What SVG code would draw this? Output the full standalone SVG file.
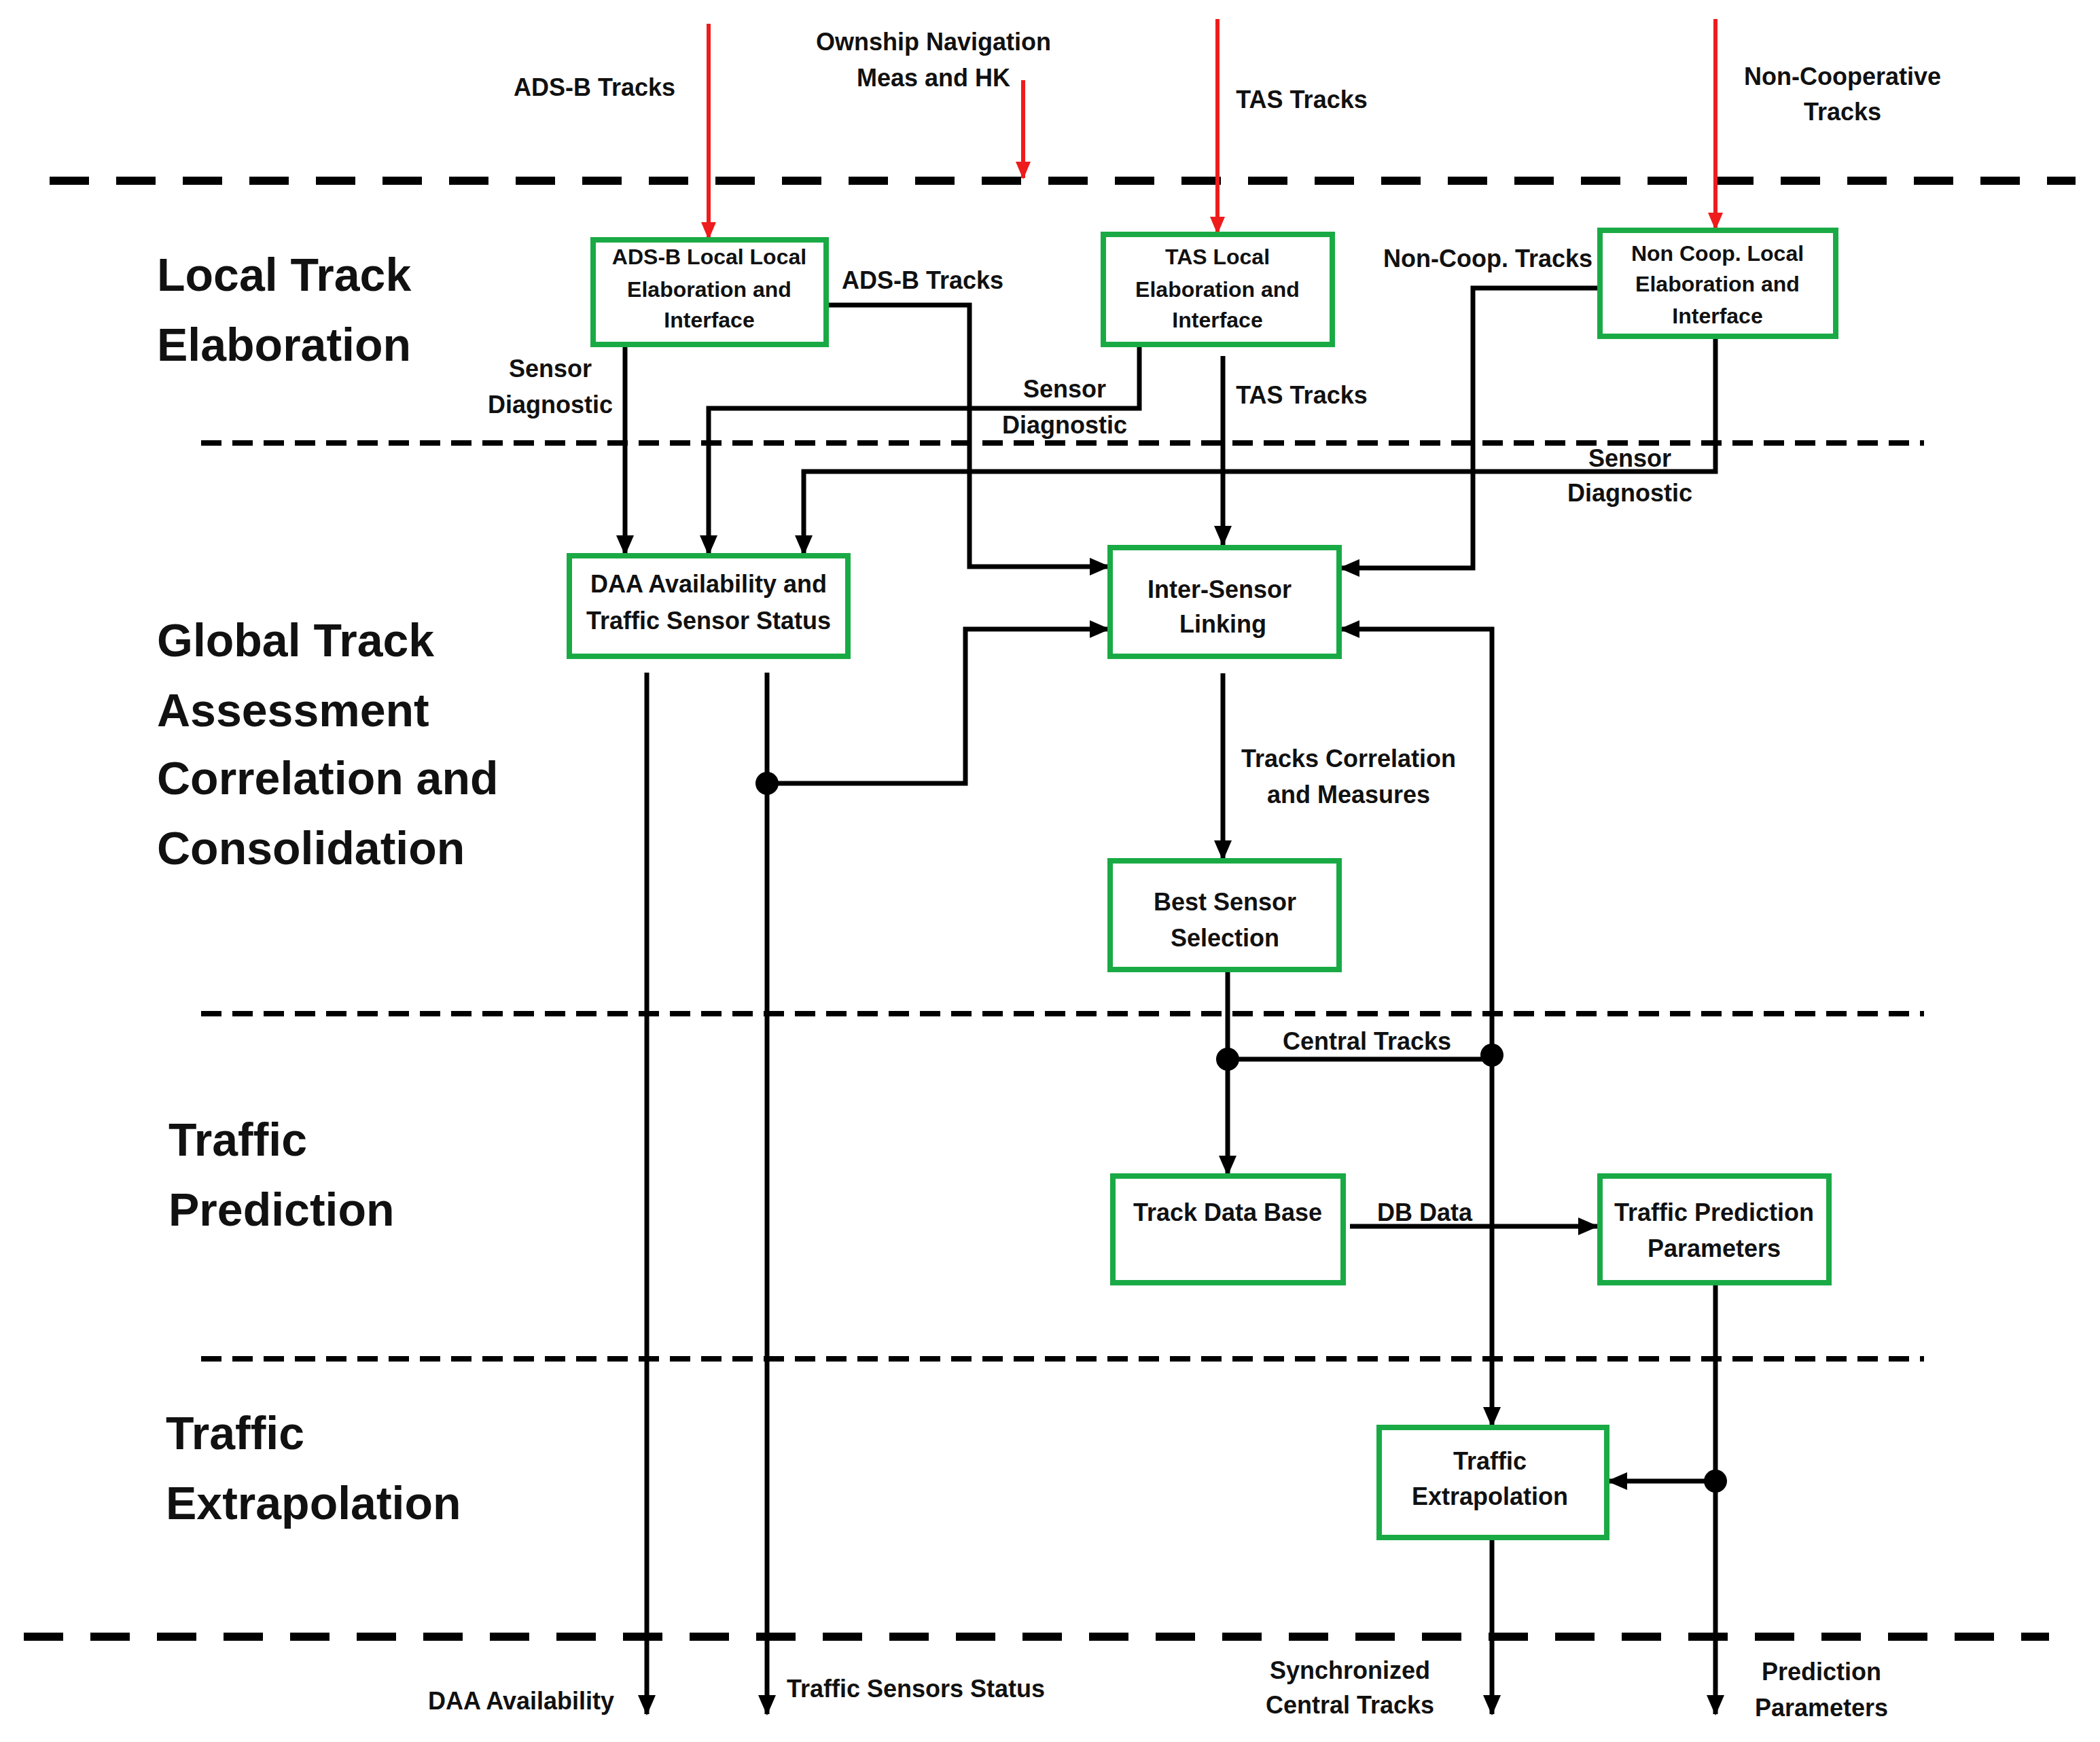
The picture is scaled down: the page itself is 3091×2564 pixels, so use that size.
<svg xmlns="http://www.w3.org/2000/svg" width="3091" height="2564" viewBox="0 0 3091 2564">
<defs>
<style>
text{font-family:"Liberation Sans",Arial,sans-serif;font-weight:bold;fill:#111;text-anchor:middle;dominant-baseline:central}
.lbl{font-size:36px}
.bx{font-size:36px}
.bxs{font-size:32px}
.ttl{font-size:68px;text-anchor:start}
.box{fill:#fff;stroke:#1aaa45;stroke-width:8}
.c{fill:none;stroke:#000;stroke-width:7}
.ca{fill:none;stroke:#000;stroke-width:7;marker-end:url(#ah)}
.r{fill:none;stroke:#ee1c1c;stroke-width:6;marker-end:url(#rh)}
.d1{stroke:#000;stroke-width:12;stroke-dasharray:58 40}
.d2{stroke:#000;stroke-width:8;stroke-dasharray:30 16}
</style>
<marker id="ah" markerUnits="userSpaceOnUse" markerWidth="30" markerHeight="30" viewBox="0 0 30 30" refX="28" refY="15" orient="auto"><path d="M0,2 L30,15 L0,28 Z" fill="#000"/></marker>
<marker id="rh" markerUnits="userSpaceOnUse" markerWidth="26" markerHeight="30" viewBox="0 0 26 30" refX="24" refY="13" orient="auto"><path d="M0,2 L26,13 L0,24 Z" fill="#ee1c1c"/></marker>
</defs>
<rect width="3091" height="2564" fill="#fff"/>
<g id="separators">
<line class="d1" x1="73" y1="266" x2="3055" y2="266"/>
<line class="d2" x1="296" y1="652" x2="2832" y2="652"/>
<line class="d2" x1="296" y1="1492" x2="2832" y2="1492"/>
<line class="d2" x1="296" y1="2000" x2="2832" y2="2000"/>
<line class="d1" x1="35" y1="2409" x2="3016" y2="2409"/>
</g>
<g id="titles">
<text class="ttl" x="231" y="404">Local Track</text>
<text class="ttl" x="231" y="507">Elaboration</text>
<text class="ttl" x="231" y="942">Global Track</text>
<text class="ttl" x="231" y="1045">Assessment</text>
<text class="ttl" x="231" y="1145">Correlation and</text>
<text class="ttl" x="231" y="1248">Consolidation</text>
<text class="ttl" x="248" y="1677">Traffic</text>
<text class="ttl" x="248" y="1780">Prediction</text>
<text class="ttl" x="244" y="2109">Traffic</text>
<text class="ttl" x="244" y="2212">Extrapolation</text>
</g>
<g id="connectors">
<path class="r" d="M1043,35 V351"/>
<path class="r" d="M1792,28 V343"/>
<path class="r" d="M2525,28 V337"/>
<path class="r" d="M1506,118 V262"/>
<path class="ca" d="M1216,449 H1427 V834 H1632"/>
<path class="ca" d="M920,507 V816"/>
<path class="ca" d="M1677,507 V601 H1043 V816"/>
<path class="ca" d="M1800,524 V802"/>
<path class="ca" d="M2525,495 V694 H1183 V816"/>
<path class="ca" d="M2355,424 H2168 V836 H1973"/>
<path class="ca" d="M2196,1553 V926 H1973"/>
<path class="ca" d="M2196,1553 V2099"/>
<path class="ca" d="M952,990 V2523"/>
<path class="ca" d="M1129,990 V2523"/>
<path class="ca" d="M1129,1153 H1421 V926 H1632"/>
<path class="ca" d="M1800,991 V1265"/>
<path class="ca" d="M1807,1427 V1729"/>
<path class="c" d="M1807,1559 H2196"/>
<path class="ca" d="M1987,1805 H2351"/>
<path class="ca" d="M2525,1888 V2523"/>
<path class="ca" d="M2525,2180 H2367"/>
<path class="ca" d="M2196,2263 V2523"/>
<circle cx="1129" cy="1153" r="17"/>
<circle cx="1807" cy="1559" r="17"/>
<circle cx="2196" cy="1553" r="17"/>
<circle cx="2525" cy="2180" r="17"/>
</g>
<g id="labels">
<text class="lbl" x="875" y="128">ADS-B Tracks</text>
<text class="lbl" x="1374" y="61">Ownship Navigation</text>
<text class="lbl" x="1374" y="114">Meas and HK</text>
<text class="lbl" x="1916" y="146">TAS Tracks</text>
<text class="lbl" x="2712" y="112">Non-Cooperative</text>
<text class="lbl" x="2712" y="164">Tracks</text>
<text class="lbl" x="1358" y="412">ADS-B Tracks</text>
<text class="lbl" x="2190" y="380">Non-Coop. Tracks</text>
<text class="lbl" x="810" y="542">Sensor</text>
<text class="lbl" x="810" y="595">Diagnostic</text>
<text class="lbl" x="1567" y="572">Sensor</text>
<text class="lbl" x="1567" y="625">Diagnostic</text>
<text class="lbl" x="1916" y="581">TAS Tracks</text>
<text class="lbl" x="2399" y="674">Sensor</text>
<text class="lbl" x="2399" y="725">Diagnostic</text>
<text class="lbl" x="1985" y="1116">Tracks Correlation</text>
<text class="lbl" x="1985" y="1169">and Measures</text>
<text class="lbl" x="2012" y="1532">Central Tracks</text>
<text class="lbl" x="2097" y="1784">DB Data</text>
<text class="lbl" x="767" y="2503">DAA Availability</text>
<text class="lbl" x="1348" y="2485">Traffic Sensors Status</text>
<text class="lbl" x="1987" y="2458">Synchronized</text>
<text class="lbl" x="1987" y="2509">Central Tracks</text>
<text class="lbl" x="2681" y="2460">Prediction</text>
<text class="lbl" x="2681" y="2513">Parameters</text>
</g>
<g id="adsb-local"><rect class="box" x="873" y="353" width="343" height="154"/>
<text class="bxs" x="1044" y="378">ADS-B Local Local</text><text class="bxs" x="1044" y="426">Elaboration and</text><text class="bxs" x="1044" y="471">Interface</text></g>
<g id="tas-local"><rect class="box" x="1624" y="345" width="337" height="162"/>
<text class="bxs" x="1792" y="378">TAS Local</text><text class="bxs" x="1792" y="426">Elaboration and</text><text class="bxs" x="1792" y="471">Interface</text></g>
<g id="noncoop-local"><rect class="box" x="2355" y="339" width="347" height="156"/>
<text class="bxs" x="2528" y="373">Non Coop. Local</text><text class="bxs" x="2528" y="418">Elaboration and</text><text class="bxs" x="2528" y="465">Interface</text></g>
<g id="daa"><rect class="box" x="838" y="818" width="410" height="148"/>
<text class="bx" x="1043" y="859">DAA Availability and</text><text class="bx" x="1043" y="913">Traffic Sensor Status</text></g>
<g id="inter-sensor"><rect class="box" x="1634" y="806" width="337" height="160"/>
<text class="bx" x="1795" y="867">Inter-Sensor</text><text class="bx" x="1800" y="918">Linking</text></g>
<g id="best-sensor"><rect class="box" x="1634" y="1267" width="337" height="160"/>
<text class="bx" x="1803" y="1327">Best Sensor</text><text class="bx" x="1803" y="1380">Selection</text></g>
<g id="track-db"><rect class="box" x="1638" y="1731" width="339" height="157"/>
<text class="bx" x="1807" y="1784">Track Data Base</text></g>
<g id="tpp"><rect class="box" x="2355" y="1731" width="337" height="157"/>
<text class="bx" x="2523" y="1784">Traffic Prediction</text><text class="bx" x="2523" y="1837">Parameters</text></g>
<g id="traffic-extrap"><rect class="box" x="2030" y="2101" width="335" height="162"/>
<text class="bx" x="2193" y="2150">Traffic</text><text class="bx" x="2193" y="2202">Extrapolation</text></g>
</svg>
